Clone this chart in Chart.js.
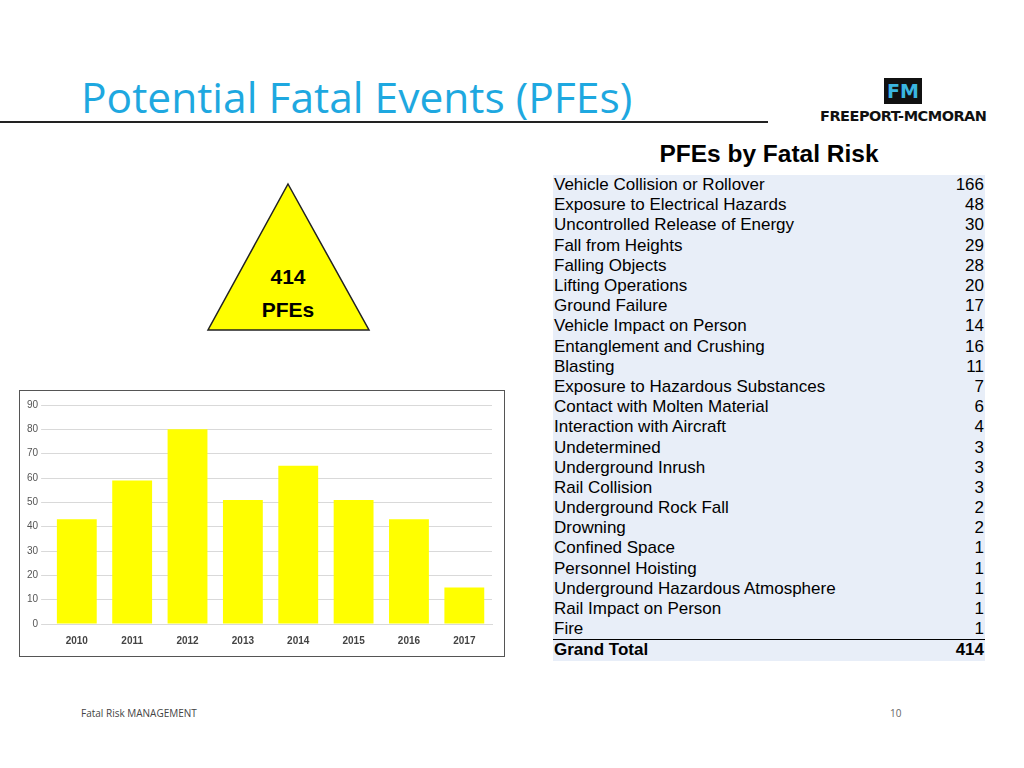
<!DOCTYPE html>
<html><head><meta charset="utf-8">
<script src="https://cdn.jsdelivr.net/npm/chart.js@4"></script>
<style>
body{margin:0;width:1024px;height:768px;background:#fff;position:relative;overflow:hidden;font-family:"Liberation Sans",Arial,sans-serif}
#title{position:absolute;left:81px;top:68px;font-family:"Open Sans",sans-serif;font-size:42.5px;color:#1ea8e0}
#rule{position:absolute;left:0;top:121px;width:768px;height:2px;background:#222}
#logo{position:absolute;left:820px;top:78px}
#logo .box{position:absolute;left:64px;top:0;width:38px;height:26px;background:#111;color:#3ab6e0;font-weight:bold;font-size:19px;text-align:center;line-height:26px;font-family:"DejaVu Sans"}
#logo .txt{position:absolute;left:0;top:30px;white-space:nowrap;font-weight:bold;font-size:14.5px;color:#111;font-family:"DejaVu Sans";letter-spacing:-0.5px}
#tri{position:absolute;left:206px;top:182px}
#chartbox{position:absolute;left:19px;top:390px;width:484px;height:265px;border:1px solid #555}
#tbltitle{position:absolute;left:553px;top:140px;width:432px;text-align:center;font-weight:bold;font-size:24.5px}
table{position:absolute;left:553px;top:175px;width:432px;border-collapse:collapse;font-size:17px;background:#e8eef8}
td{padding:0 1px;height:20.2px;line-height:20px}
td.n{text-align:right}
tr.tot td{font-weight:bold;border-top:1px solid #000}
#foot{position:absolute;left:81px;top:706px;font-size:10px;color:#444;font-family:"Open Sans",sans-serif}
#page{position:absolute;left:890px;top:706px;font-size:10px;color:#666;font-family:"Open Sans",sans-serif}
</style></head><body>
<div id="title">Potential Fatal Events (PFEs)</div>
<div id="rule"></div>
<div id="logo"><div class="box">FM</div><div class="txt">FREEPORT-MCMORAN</div></div>
<svg id="tri" width="166" height="152"><polygon points="82,2 163,148 2,148" fill="#ffff00" stroke="#222" stroke-width="1.5"/>
<text x="82" y="102" text-anchor="middle" font-weight="bold" font-size="21" font-family="Liberation Sans">414</text>
<text x="82" y="135" text-anchor="middle" font-weight="bold" font-size="21" font-family="Liberation Sans">PFEs</text></svg>
<div id="chartbox"><canvas id="c"></canvas></div>
<div id="tbltitle">PFEs by Fatal Risk</div>
<table id="t"></table>
<div id="foot">Fatal Risk MANAGEMENT</div>
<div id="page">10</div>
<script>
const years = ["2010","2011","2012","2013","2014","2015","2016","2017"];
const pfes = [43, 59, 80, 51, 65, 51, 43, 15];
const risks = ["Vehicle Collision or Rollover","Exposure to Electrical Hazards","Uncontrolled Release of Energy","Fall from Heights","Falling Objects","Lifting Operations","Ground Failure","Vehicle Impact on Person","Entanglement and Crushing","Blasting","Exposure to Hazardous Substances","Contact with Molten Material","Interaction with Aircraft","Undetermined","Underground Inrush","Rail Collision","Underground Rock Fall","Drowning","Confined Space","Personnel Hoisting","Underground Hazardous Atmosphere","Rail Impact on Person","Fire"];
const riskCounts = [166,48,30,29,28,20,17,14,16,11,7,6,4,3,3,3,2,2,1,1,1,1,1];
const grandTotal = 414;

let html = "";
risks.forEach(function (r, i) {
  html += "<tr><td>" + r + "</td><td class='n'>" + riskCounts[i] + "</td></tr>";
});
html += "<tr class='tot'><td>Grand Total</td><td class='n'>" + grandTotal + "</td></tr>";
document.getElementById("t").innerHTML = html;

const cv = document.getElementById("c");
cv.width = 484; cv.height = 265;
cv.style.width = "484px"; cv.style.height = "265px";
new Chart(cv, {
  type: "bar",
  data: { labels: years, datasets: [{ data: pfes, backgroundColor: "#ffff00", categoryPercentage: 0.72, barPercentage: 1 }] },
  options: {
    responsive: false, animation: false,
    layout: { padding: { top: 14, right: 12, left: 4, bottom: 6 } },
    plugins: { legend: { display: false }, tooltip: { enabled: false } },
    scales: {
      x: { grid: { display: false }, border: { color: "#d9d9d9" },
           ticks: { color: "#444", font: { size: 10, weight: "bold", family: "Liberation Sans" } } },
      y: { min: 0, max: 90, ticks: { stepSize: 10, color: "#555", font: { size: 10, family: "Liberation Sans" } },
           grid: { color: "#d9d9d9" }, border: { display: false } }
    }
  }
});
</script>
</body></html>
